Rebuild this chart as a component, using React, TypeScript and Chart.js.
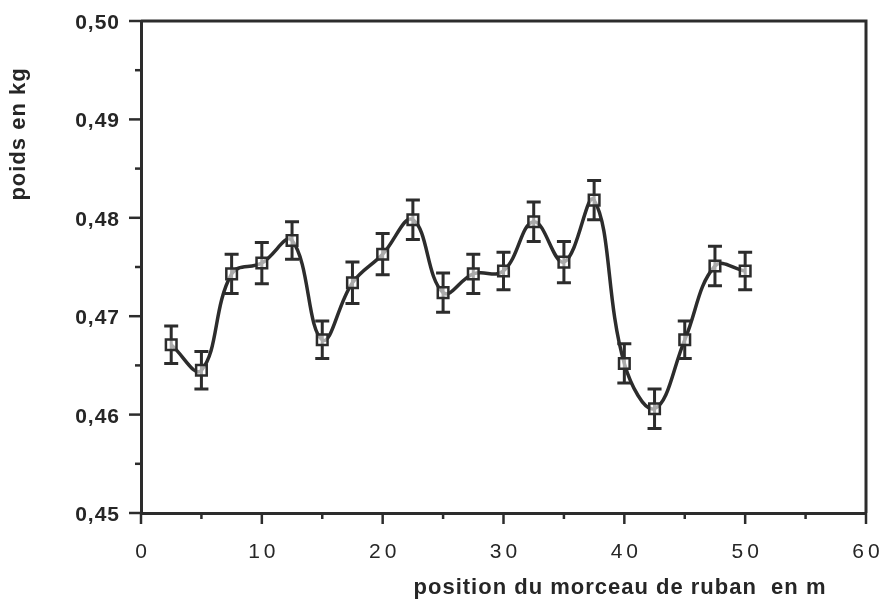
import { useEffect, useRef } from 'react';
import { Chart, registerables } from 'chart.js';

Chart.register(...registerables);

const positions = [2.5, 5, 7.5, 10, 12.5, 15, 17.5, 20, 22.5, 25, 27.5, 30, 32.5, 35, 37.5, 40, 42.5, 45, 47.5, 50];
const weights = [0.4671, 0.4645, 0.4743, 0.4754, 0.4777, 0.4676, 0.4734, 0.4763, 0.4798, 0.4724, 0.4743, 0.4746, 0.4796, 0.4755, 0.4818, 0.4652, 0.4606, 0.4676, 0.4751, 0.4746];
const errors = [0.0019, 0.0019, 0.0020, 0.0021, 0.0019, 0.0019, 0.0021, 0.0021, 0.0020, 0.0020, 0.0020, 0.0019, 0.0020, 0.0021, 0.0020, 0.0020, 0.0020, 0.0019, 0.0020, 0.0019];
const xTickValues = [0, 10, 20, 30, 40, 50, 60];
const yTickValues = [0.45, 0.46, 0.47, 0.48, 0.49, 0.5];
const xTitle = 'position du morceau de ruban  en m';
const yTitle = 'poids en kg';

const INK = '#2c2c2c';
const TEXT = '#262626';
const FONT = "'Liberation Sans', Arial, sans-serif";

const isMultiple = (v: number, step: number) => Math.abs(Math.round(v / step) * step - v) < step * 1e-4;
const fmtY = (v: number) => v.toFixed(2).replace('.', ',');

const decoPlugin = {
  id: 'deco',
  beforeDatasetsDraw(chart: any) {
    const { ctx, scales } = chart;
    const xs = scales.x, ys = scales.y;
    ctx.save();
    ctx.strokeStyle = INK;
    ctx.lineWidth = 3;
    positions.forEach((p, i) => {
      const x = xs.getPixelForValue(p);
      const yt = ys.getPixelForValue(weights[i] + errors[i]);
      const yb = ys.getPixelForValue(weights[i] - errors[i]);
      ctx.beginPath();
      ctx.moveTo(x, yt);
      ctx.lineTo(x, yb);
      ctx.moveTo(x - 7, yt);
      ctx.lineTo(x + 7, yt);
      ctx.moveTo(x - 7, yb);
      ctx.lineTo(x + 7, yb);
      ctx.stroke();
    });
    ctx.restore();
  },
  afterDraw(chart: any) {
    const { ctx, chartArea, scales } = chart;
    const xs = scales.x, ys = scales.y;
    ctx.save();
    ctx.strokeStyle = INK;
    ctx.lineWidth = 3;
    // frame: top and right
    ctx.beginPath();
    ctx.moveTo(chartArea.left, chartArea.top);
    ctx.lineTo(chartArea.right, chartArea.top);
    ctx.lineTo(chartArea.right, chartArea.bottom);
    ctx.stroke();
    // ticks
    ctx.lineWidth = 2.5;
    ys.ticks.forEach((t: any, i: number) => {
      const major = isMultiple(t.value, 0.01);
      const y = ys.getPixelForTick(i);
      ctx.beginPath();
      ctx.moveTo(chartArea.left - (major ? 12 : 6), y);
      ctx.lineTo(chartArea.left, y);
      ctx.stroke();
    });
    xs.ticks.forEach((t: any, i: number) => {
      const major = isMultiple(t.value, 10);
      const x = xs.getPixelForTick(i);
      ctx.beginPath();
      ctx.moveTo(x, chartArea.bottom);
      ctx.lineTo(x, chartArea.bottom + (major ? 11 : 6));
      ctx.stroke();
    });
    // tick labels
    ctx.fillStyle = TEXT;
    ctx.font = `bold 21px ${FONT}`;
    ctx.letterSpacing = '1px';
    ctx.textAlign = 'right';
    ctx.textBaseline = 'alphabetic';
    yTickValues.forEach((v) => {
      const y = ys.getPixelForValue(v);
      ctx.fillText(fmtY(v), 120, y + 8);
    });
    ctx.font = `21px ${FONT}`;
    ctx.letterSpacing = '4px';
    ctx.textAlign = 'center';
    xTickValues.forEach((v) => {
      const x = xs.getPixelForValue(v);
      ctx.fillText(String(v), x + 2, 558);
    });
    // titles
    ctx.font = `bold 22px ${FONT}`;
    ctx.letterSpacing = '1px';
    ctx.textAlign = 'center';
    ctx.textBaseline = 'alphabetic';
    ctx.fillText(xTitle, 620, 594);
    ctx.translate(25, 134);
    ctx.rotate(-Math.PI / 2);
    ctx.fillText(yTitle, 0, 0);
    ctx.restore();
  },
};

export default function App() {
  const ref = useRef<HTMLCanvasElement>(null);
  useEffect(() => {
    if (!ref.current) return;
    const chart = new Chart(ref.current, {
      type: 'line',
      data: {
        datasets: [
          {
            data: positions.map((p, i) => ({ x: p, y: weights[i] })),
            borderColor: INK,
            borderWidth: 3.5,
            tension: 0.4,
            pointStyle: 'rect',
            pointRadius: 7.5,
            pointBorderWidth: 2.5,
            pointBorderColor: INK,
            pointBackgroundColor: 'rgba(255,255,255,0.6)',
            fill: false,
          },
        ],
      },
      options: {
        responsive: false,
        animation: false,
        layout: { padding: { top: 21, right: 19, left: 0, bottom: 0 } },
        plugins: { legend: { display: false }, tooltip: { enabled: false }, title: { display: false } },
        scales: {
          x: {
            type: 'linear',
            min: 0,
            max: 60,
            afterFit: (s: any) => { s.height = 88; },
            ticks: { display: false, stepSize: 5, autoSkip: false },
            grid: { display: false },
            border: { display: true, color: INK, width: 3 },
          },
          y: {
            type: 'linear',
            min: 0.45,
            max: 0.5,
            afterFit: (s: any) => { s.width = 141; },
            ticks: { display: false, stepSize: 0.005, autoSkip: false },
            grid: { display: false },
            border: { display: true, color: INK, width: 3 },
          },
        },
      },
      plugins: [decoPlugin],
    });
    return () => chart.destroy();
  }, []);
  return (
    <div style={{ position: 'fixed', left: 0, top: 0, width: 885, height: 601, background: '#fff' }}>
      <canvas ref={ref} width={885} height={601} style={{ display: 'block' }} />
    </div>
  );
}
